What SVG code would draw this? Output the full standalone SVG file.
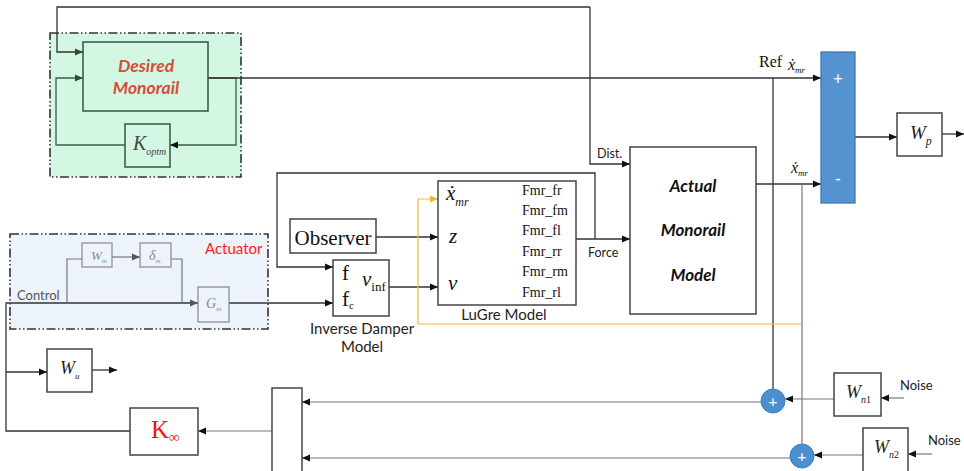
<svg xmlns="http://www.w3.org/2000/svg" width="964" height="471" viewBox="0 0 964 471">
<style>
.ln{fill:none;stroke:#333;stroke-width:1.3}
.lg{fill:none;stroke:#777;stroke-width:1.2}
.lgr{fill:none;stroke:#3a5f4a;stroke-width:1.3}
.ly{fill:none;stroke:#f2b72a;stroke-width:1.2}
.box{fill:#fff;stroke:#444;stroke-width:1.5}
.gbox{fill:#d3f7e3;stroke:#3a5f4a;stroke-width:1.6}
.dd{stroke:#333;stroke-width:1.6;stroke-dasharray:9 2.5 1.5 2.5 1.5 2.5}
.cal{font-family:Lato,"Open Sans","Liberation Sans",sans-serif}
.tm{font-family:"Liberation Serif","DejaVu Serif",serif}
.it{font-style:italic}
.circ{fill:#4b8fd0;stroke:#3d7dbd;stroke-width:1}
</style>
<defs>
<marker id="ah" viewBox="0 0 8 8" refX="8" refY="4" markerWidth="8" markerHeight="8" markerUnits="userSpaceOnUse" orient="auto"><path d="M0,0.6 L8,4 L0,7.4 z" fill="#111"/></marker>
<marker id="ahg" viewBox="0 0 8 8" refX="8" refY="4" markerWidth="8" markerHeight="8" markerUnits="userSpaceOnUse" orient="auto"><path d="M0,0.6 L8,4 L0,7.4 z" fill="#555"/></marker>
<marker id="ahy" viewBox="0 0 8 8" refX="8" refY="4" markerWidth="8" markerHeight="8" markerUnits="userSpaceOnUse" orient="auto"><path d="M0,0.6 L8,4 L0,7.4 z" fill="#f2b72a"/></marker>
<marker id="ahd" viewBox="0 0 8 8" refX="8" refY="4" markerWidth="8" markerHeight="8" markerUnits="userSpaceOnUse" orient="auto"><path d="M0,0.6 L8,4 L0,7.4 z" fill="#2d4d3a"/></marker>
</defs>

<g id="desired-region">
<rect x="50" y="33" width="191" height="144" fill="#d3f7e3" class="dd"/>
</g>
<g id="actuator-region">
<rect x="10" y="234" width="258" height="95" fill="#edf3fb" class="dd"/>
<text x="205" y="254" class="cal" font-size="15" fill="#ff2020">Actuator</text>
<text x="17" y="300" class="cal" font-size="13" fill="#555">Control</text>
</g>

<g id="connectors">
<path class="ln" d="M590,7 H57 V52 H83" marker-end="url(#ahd)"/>
<path class="ln" d="M590,7 V164 H630" marker-end="url(#ah)"/>
<path class="lgr" d="M208,78 H236 V145 H170" marker-end="url(#ah)"/>
<path class="lgr" d="M125,145 H56 V78 H83" marker-end="url(#ahd)"/>
<path class="ln" d="M208,78 H821" marker-end="url(#ah)"/>
<path class="ln" d="M773,78 V389"/>
<path class="ln" d="M756,184 H821" marker-end="url(#ah)"/>
<path class="lg" d="M802,184 V444"/>
<path class="ln" d="M855,137 H897" marker-end="url(#ah)"/>
<path class="ln" d="M942,134 H964" marker-end="url(#ah)"/>
<path class="lg" d="M904,398 H881" stroke="#aaa" marker-end="url(#ah)"/>
<path class="lg" d="M834,399 H785" marker-end="url(#ah)"/>
<path class="lg" d="M932,454 H908" marker-end="url(#ah)"/>
<path class="lg" d="M863,455 H814" stroke="#aaa" marker-end="url(#ah)"/>
<path class="lg" d="M761,402 H302" marker-end="url(#ah)"/>
<path class="lg" d="M790,458 H302" marker-end="url(#ah)"/>
<path class="lg" d="M272,431 H198" marker-end="url(#ah)"/>
<path class="ln" d="M130,431 H6 V303 H198" marker-end="url(#ahg)"/>
<path class="ln" d="M6,372 H47" marker-end="url(#ah)"/>
<path class="ln" d="M92,370 H117" marker-end="url(#ah)"/>
<path class="lg" d="M67,303 V259 H82"/>
<path class="lg" d="M112,257 H140" marker-end="url(#ahg)"/>
<path class="lg" d="M171,259 H182 V303"/>
<path class="ln" d="M229,303 H333" marker-end="url(#ah)"/>
<path class="ln" d="M576,239 H630" marker-end="url(#ah)"/>
<path class="ln" d="M595,239 V173 H277 V267 H333" marker-end="url(#ah)"/>
<path class="ln" d="M376,237 H438" marker-end="url(#ah)"/>
<path class="ln" d="M389,287 H438" marker-end="url(#ah)"/>
<path class="ly" d="M802,324 H418 V199 H438" marker-end="url(#ahy)"/>
</g>

<g id="desired-monorail">
<rect x="83" y="42" width="125" height="69" class="gbox"/>
<text x="146" y="72" text-anchor="middle" class="cal" font-size="17.5" font-weight="bold" font-style="italic" fill="#d64c38">Desired</text>
<text x="146" y="94" text-anchor="middle" class="cal" font-size="17.5" font-weight="bold" font-style="italic" fill="#d64c38">Monorail</text>
</g>
<g id="koptm">
<rect x="125" y="124" width="45" height="43" class="gbox"/>
<text x="133" y="150" class="tm it" font-size="20" fill="#444">K<tspan font-size="10" dy="5">optm</tspan></text>
</g>

<g id="wm">
<rect x="82" y="243" width="30" height="24" fill="#edf3fb" stroke="#888" stroke-width="1.2"/>
<text x="91" y="260" class="tm it" font-size="13" fill="#888">W<tspan font-size="7" dy="3">m</tspan></text>
</g>
<g id="dm">
<rect x="140" y="243" width="31" height="24" fill="#edf3fb" stroke="#888" stroke-width="1.2"/>
<text x="149" y="260" class="tm it" font-size="14" fill="#888">δ<tspan font-size="7" dy="3">m</tspan></text>
</g>
<g id="gm">
<rect x="198" y="287" width="31" height="35" fill="#edf3fb" stroke="#888" stroke-width="1.2"/>
<text x="206" y="308" class="tm it" font-size="14" fill="#888">G<tspan font-size="7" dy="3">m</tspan></text>
</g>

<g id="observer">
<rect x="290" y="219" width="86" height="34" class="box"/>
<text x="333" y="245" text-anchor="middle" class="tm" font-size="21" fill="#111">Observer</text>
</g>

<g id="inverse-damper">
<rect x="333" y="260" width="56" height="56" class="box"/>
<text x="342" y="280" class="tm" font-size="21" fill="#111">f</text>
<text x="342" y="306" class="tm" font-size="21" fill="#111">f<tspan font-size="11" dy="3">c</tspan></text>
<text x="362" y="286" class="tm it" font-size="21" fill="#111">ν<tspan font-style="normal" font-size="13" dy="5">inf</tspan></text>
<text x="362" y="334" text-anchor="middle" class="cal" font-size="15" fill="#222">Inverse Damper</text>
<text x="362" y="352" text-anchor="middle" class="cal" font-size="15" fill="#222">Model</text>
</g>

<g id="lugre">
<rect x="438" y="181" width="138" height="124" class="box"/>
<text x="446" y="200" class="tm it" font-size="21" fill="#111">ẋ<tspan font-size="12" dy="6">mr</tspan></text>
<text x="449" y="243" class="tm it" font-size="21" fill="#111">z</text>
<text x="448" y="290" class="tm it" font-size="21" fill="#111">ν</text>
<g class="tm" font-size="14" fill="#111">
<text x="522" y="195">Fmr_fr</text>
<text x="522" y="215">Fmr_fm</text>
<text x="522" y="235">Fmr_fl</text>
<text x="522" y="256">Fmr_rr</text>
<text x="522" y="276">Fmr_rm</text>
<text x="522" y="297">Fmr_rl</text>
</g>
<text x="504" y="320" text-anchor="middle" class="cal" font-size="15" fill="#222">LuGre Model</text>
</g>

<g id="labels">
<text x="597" y="158" class="cal" font-size="12.5" fill="#222">Dist.</text>
<text x="588" y="257" class="cal" font-size="12.5" fill="#222">Force</text>
<text x="759" y="67" class="tm" font-size="16" fill="#111">Ref</text>
<text x="788" y="70" class="tm it" font-size="16" fill="#111">ẋ<tspan font-size="9" dy="3">mr</tspan></text>
<text x="791" y="173" class="tm it" font-size="16" fill="#111">ẋ<tspan font-size="9" dy="3">mr</tspan></text>
</g>

<g id="actual-monorail">
<rect x="630" y="147" width="126" height="167" class="box"/>
<text x="693" y="192" text-anchor="middle" class="cal" font-size="17" font-weight="bold" font-style="italic" fill="#111">Actual</text>
<text x="693" y="236" text-anchor="middle" class="cal" font-size="17" font-weight="bold" font-style="italic" fill="#111">Monorail</text>
<text x="693" y="281" text-anchor="middle" class="cal" font-size="17" font-weight="bold" font-style="italic" fill="#111">Model</text>
</g>

<g id="sum-block">
<rect x="821" y="52" width="34" height="151" fill="#5592d0" stroke="#4177b0" stroke-width="1.3"/>
<text x="838" y="85" text-anchor="middle" class="cal" font-size="17" fill="#fff">+</text>
<text x="838" y="185" text-anchor="middle" class="cal" font-size="17" fill="#fff">-</text>
</g>

<g id="wp">
<rect x="897" y="113" width="45" height="43" class="box"/>
<text x="910" y="139" class="tm it" font-size="19" fill="#222">W<tspan font-size="12" dy="6">p</tspan></text>
</g>

<g id="wn1">
<rect x="834" y="373" width="47" height="43" class="box"/>
<text x="846" y="398" class="tm it" font-size="18" fill="#222">W<tspan font-size="10" dy="5">n</tspan><tspan font-size="10" font-style="normal">1</tspan></text>
<text x="900" y="390" class="cal" font-size="13" fill="#222">Noise</text>
</g>
<g id="wn2">
<rect x="863" y="428" width="45" height="50" class="box"/>
<text x="874" y="453" class="tm it" font-size="18" fill="#222">W<tspan font-size="10" dy="5">n</tspan><tspan font-size="10" font-style="normal">2</tspan></text>
<text x="928" y="445" class="cal" font-size="13" fill="#222">Noise</text>
</g>

<g id="sum1">
<circle cx="773" cy="401" r="12" class="circ"/>
<text x="773" y="407" text-anchor="middle" class="cal" font-size="16" fill="#fff">+</text>
</g>
<g id="sum2">
<circle cx="802" cy="456" r="12" class="circ"/>
<text x="802" y="462" text-anchor="middle" class="cal" font-size="16" fill="#fff">+</text>
</g>

<g id="mux">
<rect x="272" y="388" width="30" height="95" class="box"/>
</g>

<g id="kinf">
<rect x="130" y="408" width="68" height="47" class="box"/>
<text x="151" y="438" class="tm" font-size="25" fill="#ff1010">K<tspan font-size="15" dy="4">∞</tspan></text>
</g>

<g id="wu">
<rect x="47" y="349" width="45" height="43" class="box"/>
<text x="60" y="374" class="tm it" font-size="18" fill="#222">W<tspan font-size="9" dy="5">u</tspan></text>
</g>
</svg>
